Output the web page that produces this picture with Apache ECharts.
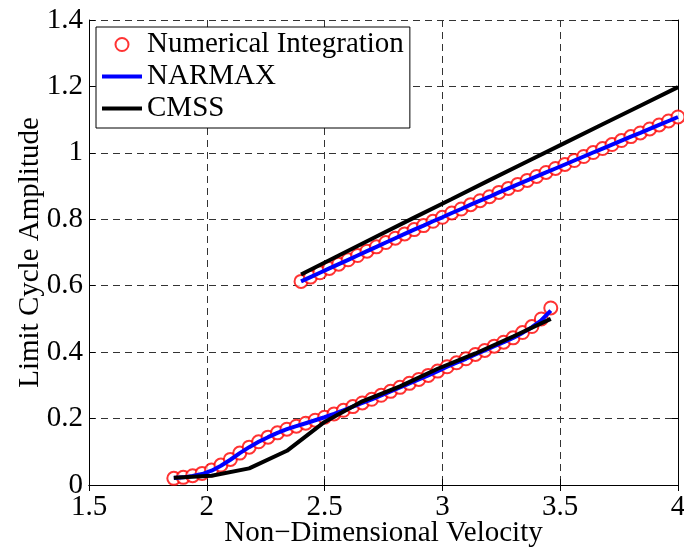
<!DOCTYPE html>
<html lang="en">
<head>
    <meta charset="UTF-8">
    <title>Limit Cycle Amplitude</title>
    <script type="text/javascript" src="https://cdn.jsdelivr.net/npm/echarts@6/dist/echarts.min.js"></script>
    <style type="text/css">
        html, body { margin: 0; padding: 0; background: #fff; }
        #chart { width: 684px; height: 549px; }
    </style>
</head>
<body>
<div id="chart"></div>
<script type="text/javascript">
    // lower branch, numerical integration (step 0.04)
    var numLowV = [1.86, 1.90, 1.94, 1.98, 2.02, 2.06, 2.10, 2.14, 2.18, 2.22, 2.26, 2.30, 2.34, 2.38,
        2.42, 2.46, 2.50, 2.54, 2.58, 2.62, 2.66, 2.70, 2.74, 2.78, 2.82, 2.86, 2.90, 2.94, 2.98,
        3.02, 3.06, 3.10, 3.14, 3.18, 3.22, 3.26, 3.30, 3.34, 3.38, 3.42, 3.46];
    var numLowA = [0.020, 0.023, 0.028, 0.035, 0.045, 0.060, 0.077, 0.096, 0.114, 0.130, 0.144, 0.157, 0.168, 0.177,
        0.186, 0.195, 0.204, 0.214, 0.225, 0.236, 0.247, 0.258, 0.270, 0.282, 0.294, 0.306, 0.318, 0.330, 0.343,
        0.356, 0.368, 0.380, 0.393, 0.405, 0.418, 0.430, 0.443, 0.459, 0.477, 0.500, 0.533];
    // upper branch, numerical integration
    var numUpV = [2.40, 2.44, 2.48, 2.52, 2.56, 2.60, 2.64, 2.68, 2.72, 2.76, 2.80, 2.84, 2.88, 2.92,
        2.96, 3.00, 3.04, 3.08, 3.12, 3.16, 3.20, 3.24, 3.28, 3.32, 3.36, 3.40, 3.44, 3.48, 3.52,
        3.56, 3.60, 3.64, 3.68, 3.72, 3.76, 3.80, 3.84, 3.88, 3.92, 3.96, 4.00];
    var numUpA = [0.613, 0.626, 0.639, 0.652, 0.665, 0.678, 0.691, 0.704, 0.717, 0.730, 0.743, 0.756, 0.769, 0.781,
        0.794, 0.806, 0.819, 0.831, 0.844, 0.856, 0.868, 0.881, 0.893, 0.905, 0.917, 0.929, 0.941, 0.953, 0.965,
        0.977, 0.989, 1.001, 1.013, 1.025, 1.037, 1.049, 1.060, 1.072, 1.084, 1.096, 1.108];

    // NARMAX
    var narLowA = [0.021, 0.023, 0.027, 0.033, 0.043, 0.058, 0.076, 0.096, 0.114, 0.130, 0.144, 0.157, 0.168, 0.177,
        0.186, 0.195, 0.204, 0.214, 0.225, 0.236, 0.247, 0.258, 0.270, 0.282, 0.294, 0.306, 0.318, 0.330, 0.343,
        0.356, 0.368, 0.380, 0.393, 0.405, 0.418, 0.430, 0.443, 0.458, 0.475, 0.496, 0.525];
    var narUpA = [0.613, 0.626, 0.639, 0.652, 0.665, 0.678, 0.691, 0.704, 0.717, 0.730, 0.743, 0.756, 0.769, 0.781,
        0.794, 0.806, 0.819, 0.831, 0.844, 0.856, 0.868, 0.881, 0.893, 0.905, 0.917, 0.929, 0.941, 0.953, 0.965,
        0.977, 0.989, 1.001, 1.013, 1.025, 1.037, 1.049, 1.060, 1.072, 1.084, 1.096, 1.108];

    // CMSS (step 0.16)
    var cmssLowV = [1.86, 2.02, 2.18, 2.34, 2.50, 2.66, 2.82, 2.98, 3.14, 3.30, 3.46];
    var cmssLowA = [0.022, 0.028, 0.050, 0.103, 0.190, 0.252, 0.297, 0.350, 0.396, 0.447, 0.500];
    var cmssUpV = [2.40, 2.56, 2.72, 2.88, 3.04, 3.20, 3.36, 3.52, 3.68, 3.84, 4.00];
    var cmssUpA = [0.634, 0.691, 0.748, 0.805, 0.861, 0.918, 0.974, 1.030, 1.086, 1.142, 1.198];

    var xTicks = [1.5, 2, 2.5, 3, 3.5, 4];
    var yTicks = [0, 0.2, 0.4, 0.6, 0.8, 1, 1.2, 1.4];

    function pairs(xs, ys) {
        var out = [];
        for (var i = 0; i < xs.length; i++) {
            out.push([xs[i], ys[i]]);
        }
        return out;
    }

    var font = 'Liberation Serif';
    var fs = 29;
    var lineIcon = 'path://M0,0 L40,0 L40,4 L0,4 Z';
    var chart = echarts.init(document.getElementById('chart'));

    var axisCommon = {
        type: 'value',
        axisLine: { show: true, lineStyle: { color: '#000', width: 1 } },
        axisTick: { show: true, inside: true, length: 6, lineStyle: { color: '#000' } }
    };

    var options = {
        animation: false,
        backgroundColor: '#fff',
        grid: { left: 89, right: 6, top: 20, bottom: 64, outerBoundsMode: 'none', containLabel: false },
        legend: {
            orient: 'vertical',
            left: 96,
            top: 27,
            width: 312,
            padding: [3, 6, 5, 6],
            itemGap: 3,
            itemWidth: 40,
            itemHeight: 13,
            symbolKeepAspect: true,
            borderColor: '#000',
            borderWidth: 1,
            borderRadius: 0,
            backgroundColor: '#fff',
            textStyle: { fontFamily: font, fontSize: fs, color: '#000' },
            data: [
                { name: 'Numerical Integration', icon: 'emptyCircle', itemStyle: { color: '#ff0000', borderWidth: 2.5 } },
                { name: 'NARMAX', icon: lineIcon, itemStyle: { color: '#0000ff' } },
                { name: 'CMSS', icon: lineIcon, itemStyle: { color: '#000' } }
            ]
        },
        xAxis: [
            Object.assign({}, axisCommon, {
                min: 1.5, max: 4, interval: 0.5,
                name: 'Non\u2212Dimensional Velocity',
                nameLocation: 'middle',
                nameGap: 34,
                nameMoveOverlap: false,
                nameTextStyle: { fontFamily: font, fontSize: fs, color: '#000' },
                axisLabel: { fontFamily: font, fontSize: fs, color: '#000', margin: 8,
                    formatter: function (v) { return xTicks.indexOf(v) >= 0 ? String(v) : ''; } },
                splitLine: { show: true, lineStyle: { color: '#333', width: 1, type: [7, 5] } }
            }),
            Object.assign({}, axisCommon, {
                position: 'top', min: 1.5, max: 4, interval: 0.5,
                axisLabel: { show: false }, splitLine: { show: false }
            })
        ],
        yAxis: [
            Object.assign({}, axisCommon, {
                min: 0, max: 1.4, interval: 0.2,
                name: 'Limit Cycle Amplitude',
                nameLocation: 'middle',
                nameGap: 44,
                nameMoveOverlap: false,
                nameTextStyle: { fontFamily: font, fontSize: fs, color: '#000' },
                axisLabel: { fontFamily: font, fontSize: fs, color: '#000', margin: 6,
                    formatter: function (v) {
                        var r = Math.round(v * 10) / 10;
                        return yTicks.indexOf(r) >= 0 ? String(r) : '';
                    } },
                splitLine: { show: true, lineStyle: { color: '#333', width: 1, type: [7, 5] } }
            }),
            Object.assign({}, axisCommon, {
                position: 'right', min: 0, max: 1.4, interval: 0.2,
                axisLabel: { show: false }, splitLine: { show: false }
            })
        ],
        series: [
            {
                name: 'Numerical Integration',
                type: 'scatter',
                symbol: 'emptyCircle',
                symbolSize: 13,
                itemStyle: { color: '#ff0000', borderWidth: 2.5 },
                z: 2,
                data: pairs(numLowV, numLowA).concat(pairs(numUpV, numUpA))
            },
            {
                name: 'NARMAX',
                type: 'line',
                symbol: 'none',
                lineStyle: { color: '#0000ff', width: 4 },
                itemStyle: { color: '#0000ff' },
                z: 3,
                data: pairs(numLowV, narLowA)
            },
            {
                name: 'NARMAX',
                type: 'line',
                symbol: 'none',
                lineStyle: { color: '#0000ff', width: 4 },
                itemStyle: { color: '#0000ff' },
                z: 3,
                data: pairs(numUpV, narUpA)
            },
            {
                name: 'CMSS',
                type: 'line',
                symbol: 'none',
                lineStyle: { color: '#000', width: 4 },
                itemStyle: { color: '#000' },
                z: 4,
                data: pairs(cmssLowV, cmssLowA)
            },
            {
                name: 'CMSS',
                type: 'line',
                symbol: 'none',
                lineStyle: { color: '#000', width: 4 },
                itemStyle: { color: '#000' },
                z: 4,
                data: pairs(cmssUpV, cmssUpA)
            }
        ]
    };
    chart.setOption(options);
</script>
</body>
</html>
